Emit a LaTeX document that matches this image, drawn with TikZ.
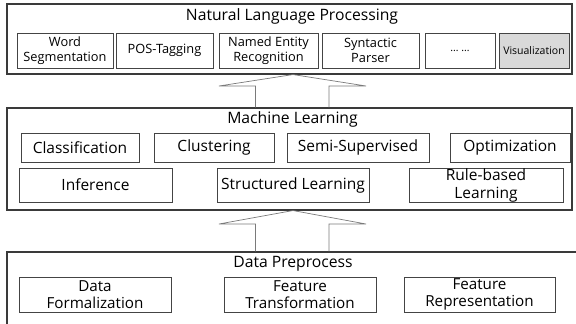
\documentclass[tikz,border=0pt]{standalone}
\usepackage{fontspec}
\setmainfont{Open Sans}
\definecolor{panelline}{HTML}{3A3A3A}
\definecolor{itemline}{HTML}{444444}
\definecolor{arrowline}{HTML}{7A7A7A}
\definecolor{shade}{HTML}{D9D9D9}
\tikzset{
  panel/.style={draw=panelline, line width=1.1pt, inner sep=0pt},
  item/.style={draw=itemline, line width=0.8pt, inner sep=0pt, align=center, text=black},
  title/.style={anchor=base, inner sep=0pt, font=\fontsize{15.7}{18}\selectfont},
  nlpitem/.style={item, font=\fontsize{12.8}{14.5}\selectfont},
  mlitem/.style={item, font=\fontsize{15.5}{18}\selectfont},
  dpitem/.style={item, font=\fontsize{15.2}{17}\selectfont},
  blockarrow/.style={draw=arrowline, line width=0.7pt, line join=miter},
}
\begin{document}
\begin{tikzpicture}[x=1pt, y=-1pt]
\useasboundingbox (0,0) rectangle (576,324);

% ---- Natural Language Processing layer
\node[panel, minimum width=565pt, minimum height=70pt] (nlp) at (289.5,39) {};
\node[title] (nlpt) at (292,20.5) {Natural Language Processing};
\node[nlpitem, minimum width=96pt, minimum height=35pt] (ws)  at (65,50.5)   {Word\\Segmentation};
\node[nlpitem, minimum width=97pt, minimum height=35pt] (pos) at (164.5,50.5) {POS-Tagging};
\node[nlpitem, minimum width=99pt, minimum height=35pt] (ner) at (268.5,50.5) {Named Entity\\Recognition};
\node[nlpitem, minimum width=97pt, minimum height=35pt] (sp)  at (370.5,50.5) {Syntactic\\Parser};
\node[nlpitem, minimum width=70pt, minimum height=35pt] (dots) at (460,50.5)  {\fontsize{10.5}{12}\selectfont \dots\ \dots};
\node[nlpitem, fill=shade, minimum width=70pt, minimum height=35pt, font=\fontsize{10.5}{12}\selectfont] (vis) at (534,50.5) {Visualization};

% ---- Machine Learning layer
\node[panel, minimum width=565pt, minimum height=102pt] (ml) at (289.5,159) {};
\node[title] (mlt) at (292.5,123.5) {Machine Learning};
\node[mlitem, minimum width=118pt, minimum height=29pt] (cls)  at (80,147.5)  {Classification};
\node[mlitem, minimum width=120pt, minimum height=29pt] (clu)  at (214,147.5) {Clustering};
\node[mlitem, minimum width=142pt, minimum height=29pt] (semi) at (358,147.5) {Semi-Supervised};
\node[mlitem, minimum width=120pt, minimum height=29pt] (opt)  at (510,147.5) {Optimization};
\node[mlitem, minimum width=153pt, minimum height=34pt] (inf)  at (95.5,185)  {Inference};
\node[mlitem, minimum width=152pt, minimum height=34pt] (sl)   at (293,185)   {Structured Learning};
\node[mlitem, minimum width=154pt, minimum height=34pt] (rbl)  at (486,185)   {Rule-based\\Learning};

% ---- Data Preprocess layer (runs past the lower and right edges)
\node[panel, minimum width=580pt, minimum height=90pt] (dp) at (297,297) {};
\node[title] (dpt) at (293,267) {Data Preprocess};
\node[dpitem, minimum width=152pt, minimum height=35pt] (df) at (95,294.5)    {Data\\Formalization};
\node[dpitem, minimum width=152pt, minimum height=35pt] (ft) at (300,294.5)   {Feature\\Transformation};
\node[dpitem, minimum width=151pt, minimum height=35pt] (fr) at (479.5,294.5) {Feature\\Representation};

% ---- hollow block arrows between layers
\coordinate (tipA) at (293,0);
\coordinate (lsA) at (255.5,0);
\coordinate (rsA) at (329,0);
\draw[blockarrow] (ml.north -| lsA) -- (255.5,86) -- (219,86) -- (nlp.south -| tipA)
  -- (366,86) -- (329,86) -- (ml.north -| rsA);
\draw[blockarrow] (dp.north -| lsA) -- (255.5,224) -- (219,224) -- (ml.south -| tipA)
  -- (366,224) -- (329,224) -- (dp.north -| rsA);
\end{tikzpicture}
\end{document}
